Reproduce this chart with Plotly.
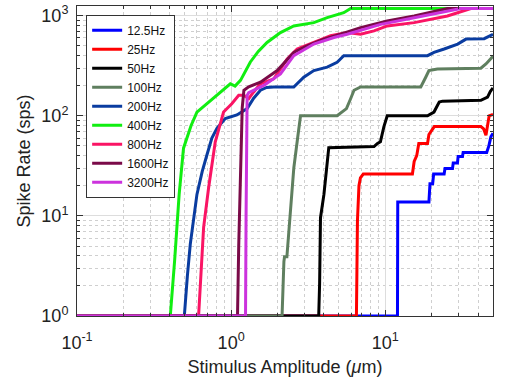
import plotly.graph_objects as go

labels = ["12.5Hz", "25Hz", "50Hz", "100Hz", "200Hz", "400Hz", "800Hz", "1600Hz", "3200Hz"]
colors = ["#0000ff", "#ff0000", "#000000", "#5f7f5f", "#0a3ca0", "#11ee11", "#fa1464", "#7a0a48", "#cc33dd"]

x_12_5 = [0.1, 12.0, 12.05, 19.2, 19.5, 20.3, 20.6, 24.1, 24.4, 27.3, 27.6, 29.4, 29.7, 31.7, 32.0, 45.5, 47.0, 48.5, 50]
y_12_5 = [1, 1, 13.8, 13.8, 21, 21, 26.2, 26.2, 29.7, 29.7, 33.7, 33.7, 39.3, 39.3, 43, 43, 50, 62, 67]

x_25 = [0.1, 6.5, 6.55, 6.6, 6.75, 6.9, 7.2, 15.0, 15.4, 16.0, 16.5, 18.8, 19.2, 20.8, 41.7, 43.5, 45, 46, 47.2, 50]
y_25 = [1, 1, 3, 9, 20, 24, 26.2, 26.2, 35, 40, 53, 53, 65, 78, 78, 74, 64, 80, 100, 103]

x_50 = [0.1, 3.7, 3.75, 3.8, 4.0, 4.2, 4.3, 8.45, 8.9, 9.3, 9.8, 10.3, 18.8, 20.7, 22.4, 23.5, 41.7, 46.1, 48, 50]
y_50 = [1, 1, 2.1, 9.6, 16.4, 35, 48, 49.3, 53, 55, 78, 100, 100, 109, 137, 140, 143, 154, 175, 190]

x_100 = [0.1, 2.14, 2.2, 2.22, 2.3, 2.35, 2.43, 2.55, 2.7, 2.82, 4.87, 5.2, 5.6, 5.96, 6.27, 6.92, 17.0, 18.3, 19.2, 21.8, 41.7, 45, 50]
y_100 = [1, 1, 3.5, 3.9, 3.9, 6, 14.1, 30, 60, 100, 100, 109, 118, 148, 180, 194, 194, 243, 283, 294, 299, 330, 393]

x_200 = [0.1, 0.497, 0.52, 0.543, 0.6, 0.65, 0.697, 0.75, 0.809, 0.916, 1.09, 1.27, 1.4, 1.55, 1.7, 1.89, 2.55, 2.96, 3.44, 4.2, 4.87, 5.38, 18.8, 20.7, 24.1, 29.5, 33.4, 43.8, 50]
y_200 = [1, 1, 2.5, 5.2, 16.4, 28, 40.8, 60, 75, 94, 102, 118, 150, 180, 192, 194, 194, 243, 283, 306, 343, 399, 399, 430, 465, 521, 584, 590, 653]

x_400 = [0.1, 0.403, 0.43, 0.46, 0.491, 0.55, 0.6, 0.697, 0.851, 0.988, 1.06, 1.15, 1.33, 1.5, 1.71, 2.09, 2.55, 3.44, 4.2, 5.38, 5.96, 50]
y_400 = [1, 1, 3.6, 16.4, 47.5, 80, 109, 132, 173, 209, 198, 226, 343, 440, 540, 679, 791, 853, 956, 1071, 1180, 1180]

x_800 = [0.1, 0.615, 0.663, 0.714, 0.789, 0.893, 1.01, 1.12, 1.21, 1.3, 1.4, 1.55, 1.89, 2.09, 2.31, 2.68, 3.44, 4.42, 5.66, 6.92, 8.45, 10.3, 15.4, 25.3, 35.9, 50]
y_800 = [1, 1, 7.7, 19, 55, 109, 132, 160, 160, 148, 173, 209, 234, 294, 369, 465, 540, 630, 679, 653, 705, 791, 853, 993, 1180, 1180]

x_1600 = [0.1, 1.1, 1.12, 1.15, 1.18, 1.21, 1.3, 1.55, 1.99, 2.55, 3.11, 3.99, 5.13, 6.92, 10.3, 15.4, 25.3, 50]
y_1600 = [1, 1, 5, 30, 120, 180, 195, 217, 283, 430, 501, 584, 653, 761, 885, 993, 1180, 1180]

x_3200 = [0.1, 1.24, 1.25, 1.26, 1.27, 1.3, 1.63, 2.09, 2.55, 3.44, 4.64, 5.66, 9.33, 15.4, 25.3, 30.9, 50]
y_3200 = [1, 1, 10, 80, 160, 170, 201, 262, 399, 521, 605, 653, 820, 956, 1112, 1180, 1180]

xs = [x_12_5, x_25, x_50, x_100, x_200, x_400, x_800, x_1600, x_3200]
ys = [y_12_5, y_25, y_50, y_100, y_200, y_400, y_800, y_1600, y_3200]

x_ticks = [0.1, 1, 10]
x_ticktext = ["10<sup>-1</sup>", "10<sup>0</sup>", "10<sup>1</sup>"]
y_ticks = [1, 10, 100, 1000]
y_ticktext = ["10<sup>0</sup>", "10<sup>1</sup>", "10<sup>2</sup>", "10<sup>3</sup>"]

x_minor = [m * 10 ** k for k in (-1, 0, 1) for m in range(2, 10) if m * 10 ** k <= 50]
y_minor = [m * 10 ** k for k in (0, 1, 2) for m in range(2, 10)]

fig = go.Figure()
for lab, col, x, y in zip(labels, colors, xs, ys):
    fig.add_trace(go.Scatter(x=x, y=y, mode="lines", name=lab,
                             line=dict(color=col, width=3)))

font_family = "Liberation Sans, Arial, Helvetica, sans-serif"
axis_common = dict(
    type="log", showline=True, linecolor="#333333", linewidth=1, mirror="ticks",
    ticks="inside", ticklen=6, tickcolor="#333333",
    showgrid=True, gridcolor="#dddddd", gridwidth=1, zeroline=False,
    tickfont=dict(size=18, color="#222222", family=font_family),
)

fig.update_xaxes(
    **axis_common,
    range=[-1, 1.69897], tickmode="array", tickvals=x_ticks, ticktext=x_ticktext,
    ticklabelstandoff=10,
    minor=dict(tickmode="array", tickvals=x_minor, ticks="inside", ticklen=3,
               tickcolor="#333333", showgrid=True, gridcolor="#cfcfcf", griddash="dot"),
    title=dict(text="Stimulus Amplitude (<i>μ</i>m)", font=dict(size=18, color="#222222"), standoff=8),
)
fig.update_yaxes(
    **axis_common,
    range=[0, 3.097], tickmode="array", tickvals=y_ticks, ticktext=y_ticktext,
    ticklabelstandoff=4,
    minor=dict(tickmode="array", tickvals=y_minor, ticks="inside", ticklen=3,
               tickcolor="#333333", showgrid=True, gridcolor="#cfcfcf", griddash="dot"),
    title=dict(text="Spike Rate (sps)", font=dict(size=18, color="#222222"), standoff=6),
)

fig.update_layout(
    width=508, height=387,
    margin=dict(l=77, r=15, t=4, b=71),
    paper_bgcolor="white", plot_bgcolor="white",
    font=dict(family=font_family, color="#222222"),
    showlegend=True,
    legend=dict(x=0.022, y=0.972, xanchor="left", yanchor="top",
                bgcolor="white", bordercolor="#333333", borderwidth=1,
                font=dict(size=12, color="#111111"), tracegroupgap=0,
                itemwidth=30),
)

fig.write_html("out.html")
